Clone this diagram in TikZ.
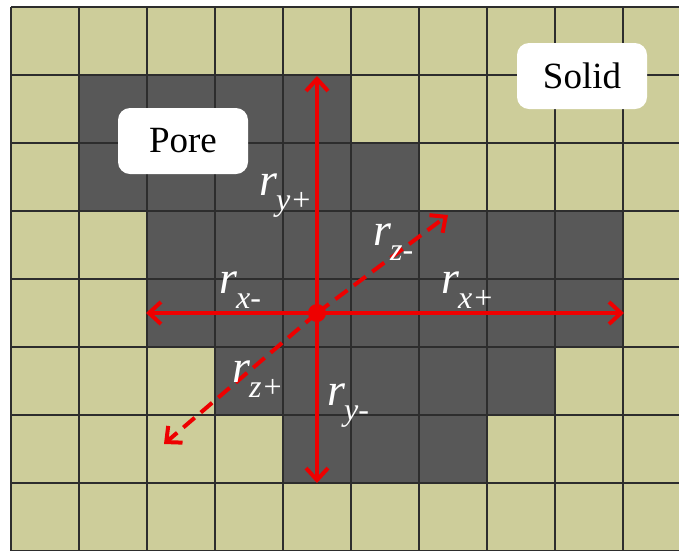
\documentclass[tikz,border=0pt]{standalone}
\usepackage{fontspec}
\setmainfont{Liberation Serif}
\usetikzlibrary{arrows.meta}
\definecolor{solidc}{RGB}{205,205,154}
\definecolor{porec}{RGB}{88,88,88}
\definecolor{gridc}{RGB}{45,45,45}
\definecolor{arrc}{RGB}{238,0,0}
\newcommand\rsub[1]{{\fontsize{46}{46}\selectfont\itshape r}\kern-1pt\raisebox{-15pt}{\fontsize{32}{32}\selectfont\itshape #1}}
\tikzset{
  labbox/.style={fill=white, rounded corners=12pt, minimum width=130pt, minimum height=66pt, inner sep=0pt, font=\fontsize{37}{40}\selectfont},
  rlab/.style={text=white, inner sep=0pt, anchor=base west},
  rarrow/.style={draw=arrc, line width=4pt, -{Straight Barb[length=12pt,width=22pt,line width=4pt]}},
  rdash/.style={rarrow, dash pattern=on 15pt off 8pt}
}
\begin{document}
\begin{tikzpicture}[x=1pt,y=-1pt]
\useasboundingbox (0,0) rectangle (679,550);
\fill[white] (0,0) rectangle (679,550);
\begin{scope}
\clip (0,0) rectangle (679,550);
\fill[solidc] (11,7) rectangle (691,551);
\foreach \c/\r in {1/1,2/1,3/1,4/1,
                   1/2,2/2,3/2,4/2,5/2,
                   2/3,3/3,4/3,5/3,6/3,7/3,8/3,
                   2/4,3/4,4/4,5/4,6/4,7/4,8/4,
                   3/5,4/5,5/5,6/5,7/5,
                   4/6,5/6,6/6}
  \fill[porec] ({11+68*\c},{7+68*\r}) rectangle ++(68,68);
\foreach \i in {0,...,10}
  \draw[gridc, line width=1.8pt] ({11+68*\i},7) -- ({11+68*\i},551);
\foreach \j in {0,...,8}
  \draw[gridc, line width=1.8pt] (11,{7+68*\j}) -- (691,{7+68*\j});
\end{scope}

\node[labbox] (pore) at (183,141) {Pore};
\node[labbox] (solid) at (582,76) {Solid};

\coordinate (c) at (317,313);
\coordinate (up) at (317,76);
\coordinate (down) at (317,483);
\coordinate (left) at (146,313);
\coordinate (right) at (624,313);
\coordinate (zm) at (448,215);
\coordinate (zp) at (164,444);

\draw[rdash] (c) -- (zm);
\draw[rdash] (c) -- (zp);
\draw[rarrow] (c) -- (up);
\draw[rarrow] (c) -- (down);
\draw[rarrow] (c) -- (left);
\draw[rarrow] (c) -- (right);
\fill[arrc] (c) circle (9pt);

\node[rlab] (ryp) at (259,195) {\rsub{y+}};
\node[rlab] (rzm) at (373,245) {\rsub{z-}};
\node[rlab] (rxm) at (219,293) {\rsub{x-}};
\node[rlab] (rxp) at (441,293) {\rsub{x+}};
\node[rlab] (rzp) at (232,382) {\rsub{z+}};
\node[rlab] (rym) at (327,405) {\rsub{y-}};
\end{tikzpicture}
\end{document}
